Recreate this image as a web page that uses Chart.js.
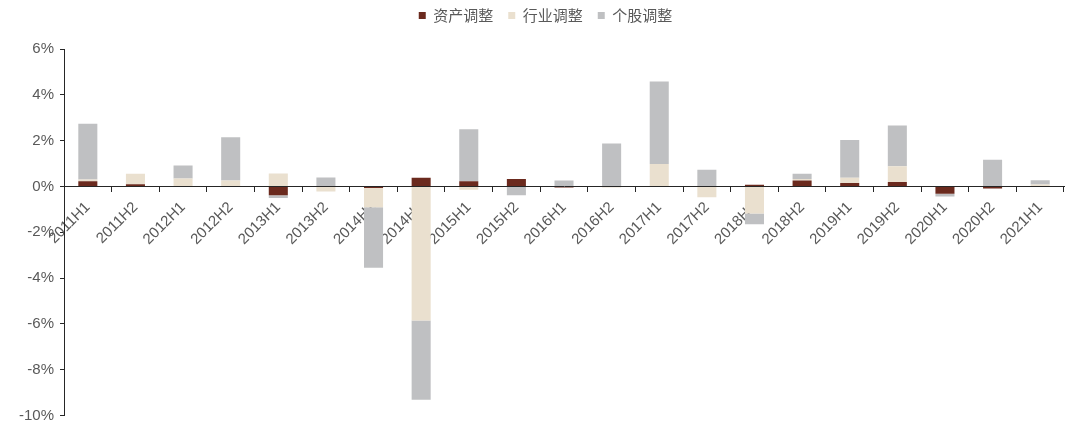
<!DOCTYPE html>
<html>
<head>
<meta charset="utf-8">
<script src="https://cdn.jsdelivr.net/npm/chart.js@4.4.1/dist/chart.umd.min.js"></script>
<style>
html,body{margin:0;padding:0;background:#fff;}
#wrap{width:1080px;height:432px;position:relative;}
</style>
</head>
<body>
<div id="wrap"><canvas id="c"></canvas></div>
<script>
const categories = ['2011H1','2011H2','2012H1','2012H2','2013H1','2013H2','2014H1','2014H2','2015H1','2015H2','2016H1','2016H2','2017H1','2017H2','2018H1','2018H2','2019H1','2019H2','2020H1','2020H2','2021H1'];
const assetAdj = [0.23, 0.10, 0.00, 0.00, -0.39, 0.00, -0.07, 0.38, 0.23, 0.32, -0.05, 0.00, 0.02, 0.00, 0.07, 0.26, 0.15, 0.19, -0.32, -0.09, 0.02];
const industryAdj = [0.07, 0.45, 0.35, 0.26, 0.57, -0.22, -0.84, -5.85, -0.15, 0.00, 0.00, -0.05, 0.96, -0.47, -1.18, 0.06, 0.23, 0.69, 0.00, 0.00, 0.07];
const stockAdj = [2.44, 0.00, 0.56, 1.89, -0.12, 0.39, -2.64, -3.46, 2.27, -0.39, 0.26, 1.87, 3.60, 0.73, -0.47, 0.23, 1.65, 1.78, -0.12, 1.17, 0.18];
const seriesNames = ['资产调整','行业调整','个股调整'];
const yTicks = [-10, -8, -6, -4, -2, 0, 2, 4, 6];

const textColor = '#595959';
const axisColor = '#262626';
const fontFam = '"Liberation Sans", Arial, "Noto Sans CJK SC", sans-serif';

const legendSpacer = {
  id: 'legendSpacer',
  beforeInit(chart) {
    const lg = chart.legend;
    const origFit = lg.fit;
    lg.fit = function () {
      origFit.bind(lg)();
      this.height = 56;
    };
  },
  afterLayout(chart) {
    const lg = chart.legend;
    lg.left += 7;
    lg.right += 7;
  }
};

new Chart(document.getElementById('c'), {
  type: 'bar',
  data: {
    labels: categories,
    datasets: [
      {label: seriesNames[0], data: assetAdj, backgroundColor: '#6B2A1E', borderWidth: 0},
      {label: seriesNames[1], data: industryAdj, backgroundColor: '#EAE0CF', borderWidth: 0},
      {label: seriesNames[2], data: stockAdj, backgroundColor: '#BFC0C2', borderWidth: 0}
    ]
  },
  plugins: [legendSpacer],
  options: {
    responsive: true,
    maintainAspectRatio: false,
    animation: false,
    devicePixelRatio: 1,
    layout: {padding: {left: 13, right: 16, top: -7, bottom: 16.5}},
    datasets: {bar: {categoryPercentage: 1.0, barPercentage: 0.4}},
    plugins: {
      legend: {
        position: 'top',
        labels: {
          boxWidth: 7, boxHeight: 7, padding: 15,
          color: textColor,
          font: {family: '"Noto Sans CJK SC", "Liberation Sans", sans-serif', size: 15}
        }
      },
      tooltip: {enabled: false}
    },
    scales: {
      x: {
        stacked: true,
        position: {y: 0},
        offset: true,
        grid: {display: true, drawOnChartArea: false, drawTicks: true, tickLength: 5, offset: true, color: axisColor, lineWidth: 1},
        border: {display: true, color: axisColor, width: 1},
        ticks: {autoSkip: false, maxRotation: 45, minRotation: 45, color: textColor, font: {family: fontFam, size: 15}, padding: 7}
      },
      y: {
        stacked: true,
        min: -10, max: 6,
        afterBuildTicks: (axis) => { axis.ticks = yTicks.map(v => ({value: v})); },
        grid: {display: true, drawOnChartArea: false, drawTicks: true, tickLength: 4, color: axisColor},
        border: {display: true, color: axisColor, width: 1},
        ticks: {color: textColor, font: {family: fontFam, size: 15}, padding: 6, callback: (v) => v + '%'}
      }
    }
  }
});
</script>
</body>
</html>
